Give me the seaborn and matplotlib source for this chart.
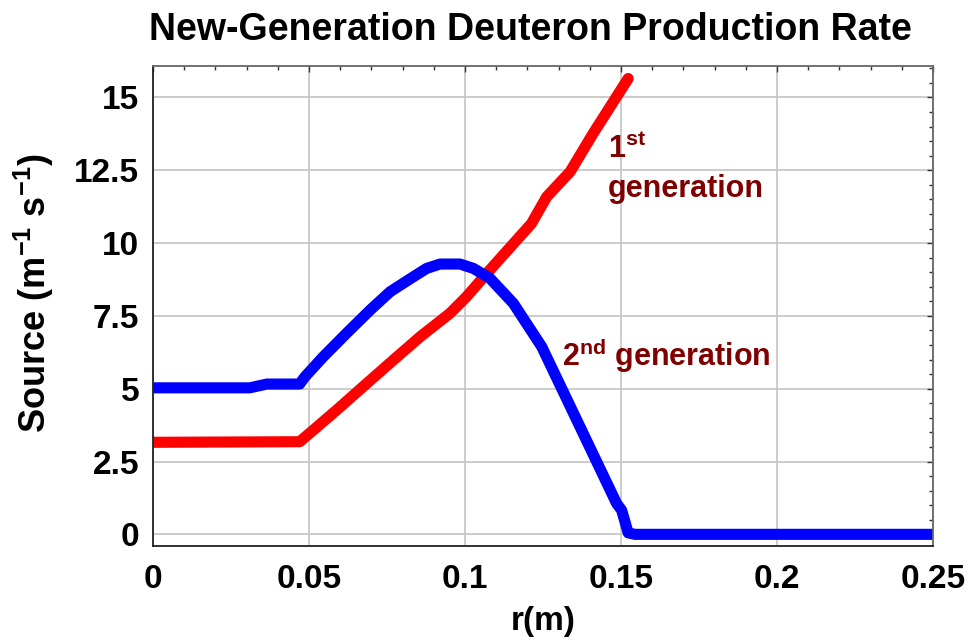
import numpy as np
import pandas as pd
import matplotlib
matplotlib.use("Agg")
import matplotlib.pyplot as plt
import seaborn as sns
from matplotlib.ticker import MultipleLocator, FixedLocator

# ---- data ----
r_first = [0.0, 0.047, 0.0514, 0.0589, 0.0685, 0.077, 0.0856, 0.0952, 0.1005,
           0.107, 0.1213, 0.1262, 0.1337, 0.1411, 0.1523]
s_first = [3.16, 3.18, 3.58, 4.27, 5.18, 5.98, 6.78, 7.59, 8.16,
           8.96, 10.67, 11.59, 12.45, 13.77, 15.65]

r_second = [0.0, 0.031, 0.0365, 0.047, 0.0487, 0.0546, 0.062, 0.0696, 0.076,
            0.0834, 0.0877, 0.092, 0.0984, 0.1027, 0.108, 0.1155, 0.1246,
            0.1486, 0.1502, 0.1523, 0.1545, 0.25]
s_second = [5.03, 5.03, 5.16, 5.16, 5.41, 6.1, 6.9, 7.7, 8.33,
            8.84, 9.13, 9.28, 9.28, 9.13, 8.79, 7.93, 6.44,
            1.06, 0.83, 0.05, 0.0, 0.0]

x_ticks = [0, 0.05, 0.1, 0.15, 0.2, 0.25]
x_tick_labels = ["0", "0.05", "0.1", "0.15", "0.2", "0.25"]
y_ticks = [0, 2.5, 5, 7.5, 10, 12.5, 15]
y_tick_labels = ["0", "2.5", "5", "7.5", "10", "12.5", "15"]

title = "New-Generation Deuteron Production Rate"
x_label = "r(m)"
y_label = r"Source (m$^{\mathbf{-1}}$ s$^{\mathbf{-1}}$)"

df1 = pd.DataFrame({"r": r_first, "S": s_first})
df2 = pd.DataFrame({"r": r_second, "S": s_second})

# ---- style ----
sns.set_style("white")
plt.rcParams["font.family"] = ["Liberation Sans", "DejaVu Sans"]
plt.rcParams["font.weight"] = "bold"
plt.rcParams["text.color"] = "black"
plt.rcParams["axes.labelcolor"] = "black"
plt.rcParams["xtick.color"] = "black"
plt.rcParams["ytick.color"] = "black"
plt.rcParams["mathtext.fontset"] = "custom"
plt.rcParams["mathtext.rm"] = "Liberation Sans:bold"
plt.rcParams["mathtext.bf"] = "Liberation Sans:bold"
plt.rcParams["mathtext.default"] = "bf"

fig = plt.figure(figsize=(9.72, 6.42), dpi=100)
ax = fig.add_axes([153 / 972, 1 - 545.7 / 642, 780 / 972, 480 / 642])

sns.lineplot(data=df1, x="r", y="S", ax=ax, color="#ff0000", linewidth=8,
             estimator=None, sort=False, solid_capstyle="round", solid_joinstyle="round")
sns.lineplot(data=df2, x="r", y="S", ax=ax, color="#0000ff", linewidth=8,
             estimator=None, sort=False, solid_capstyle="round", solid_joinstyle="round")

ax.set_xlim(0, 0.25)
ax.set_ylim(-0.39, 16.09)

ax.xaxis.set_major_locator(FixedLocator(x_ticks))
ax.set_xticklabels(x_tick_labels)
ax.yaxis.set_major_locator(FixedLocator(y_ticks))
ax.set_yticklabels(y_tick_labels)
ax.xaxis.set_minor_locator(MultipleLocator(0.01))
ax.yaxis.set_minor_locator(MultipleLocator(0.5))

ax.tick_params(axis="both", which="both", direction="in", top=True, right=True,
               color="#333333", width=1.0, labelcolor="black")
ax.tick_params(axis="both", which="major", length=4)
ax.tick_params(axis="both", which="minor", length=3)
ax.tick_params(axis="x", which="major", labelsize=24, pad=13)
ax.tick_params(axis="y", which="major", labelsize=24, pad=10)
for lbl in ax.get_xticklabels() + ax.get_yticklabels():
    lbl.set_fontweight("bold")

ax.grid(True, which="major", color="#c8c8c8", linewidth=1.3)
ax.set_axisbelow(True)

for side in ["left", "bottom"]:
    ax.spines[side].set_color("#222222")
    ax.spines[side].set_linewidth(1.3)
for side in ["top", "right"]:
    ax.spines[side].set_color("#666666")
    ax.spines[side].set_linewidth(1.3)

ax.set_xlabel(x_label, fontsize=24, fontweight="bold", color="black")
ax.set_ylabel(y_label, fontsize=26, fontweight="bold", color="black")
ax.xaxis.set_label_coords(0.5, -0.125)
ax.yaxis.set_label_coords(-0.125, 0.526)

dark_red = "#800000"
ax.text(0.1458, 12.92, r"1$^{\mathbf{st}}$", color=dark_red, fontsize=22,
        fontweight="bold", va="baseline", ha="left")
ax.text(0.1458, 11.59, "generation", color=dark_red, fontsize=22,
        fontweight="bold", va="baseline", ha="left")
ax.text(0.1311, 5.78, r"2$^{\mathbf{nd}}$ generation", color=dark_red, fontsize=22,
        fontweight="bold", va="baseline", ha="left")

fig.text(530 / 972, 1 - 12 / 642, title, fontsize=27, fontweight="bold",
         ha="center", va="top", color="black")

fig.savefig("out.png", dpi=100)
